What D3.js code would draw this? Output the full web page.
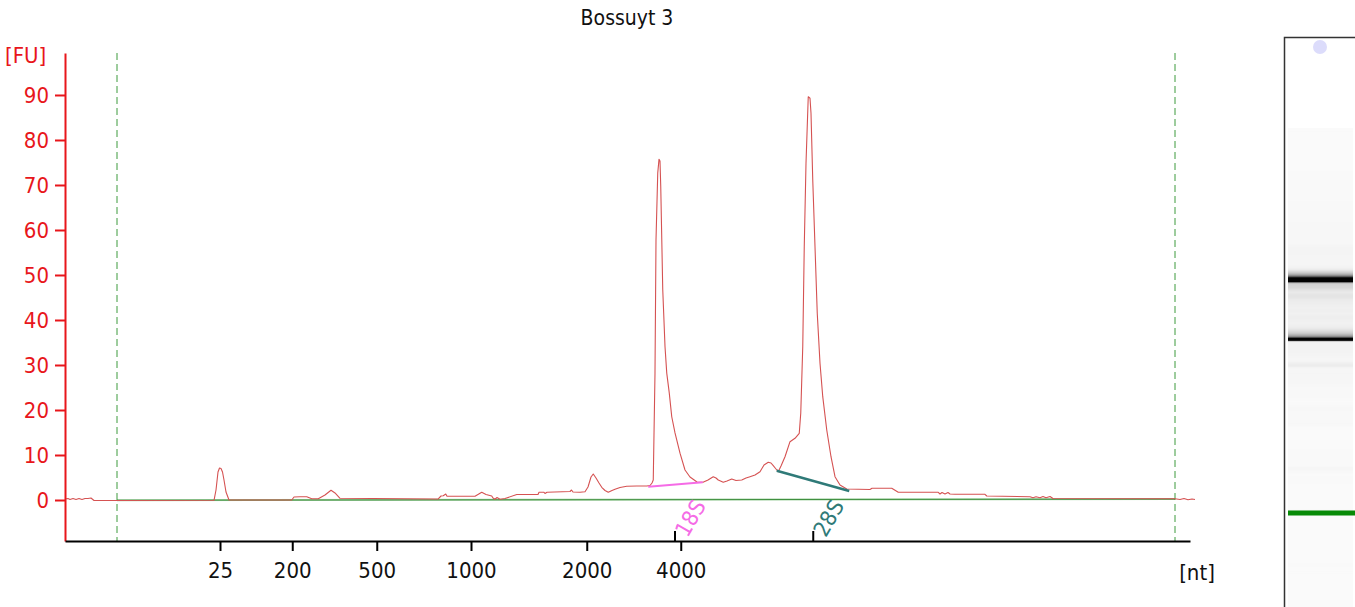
<!DOCTYPE html>
<html><head><meta charset="utf-8">
<script src="https://cdn.jsdelivr.net/npm/d3@7"></script>
<style>
html,body{margin:0;padding:0;background:#fff;}
svg{display:block;font-family:"DejaVu Sans Condensed","DejaVu Sans",sans-serif;}
</style></head>
<body><svg id="c" width="1355" height="607"></svg>
<script>
// ---- data (migration time in s, fluorescence in FU) ----
const traceTime = [19.00,19.12,19.20,19.32,19.44,19.56,19.68,19.80,19.92,20.04,20.16,21.08,24.96,25.04,25.12,25.18,25.24,25.30,25.36,25.44,25.56,28.07,28.16,28.40,28.67,28.87,29.13,29.40,29.64,29.80,30.00,33.92,34.04,34.13,34.23,34.28,35.40,35.67,35.84,36.07,36.12,36.20,36.28,36.40,36.60,37.07,37.92,37.96,38.16,38.20,38.28,39.20,39.26,39.32,39.60,39.80,39.92,40.04,40.13,40.24,40.36,40.47,40.60,40.73,40.88,41.00,41.20,41.47,41.87,42.27,42.40,42.48,42.53,42.60,42.64,42.71,42.76,42.80,42.83,42.91,43.00,43.07,43.17,43.27,43.40,43.60,43.80,44.00,44.28,44.52,44.72,44.93,45.04,45.13,45.33,45.48,45.67,45.84,46.07,46.24,46.40,46.60,46.80,46.96,47.13,47.24,47.33,47.44,47.53,47.64,47.80,48.00,48.20,48.37,48.43,48.51,48.57,48.64,48.73,48.80,48.84,48.91,49.00,49.09,49.20,49.31,49.47,49.64,49.80,50.00,50.27,51.20,51.28,52.07,52.33,53.93,54.00,54.08,54.20,54.32,54.40,54.60,55.80,55.87,57.60,57.72,57.84,58.00,58.12,58.24,58.40,58.52,63.40,63.60,63.76,63.92,64.08,64.20];
const traceFU = [0.22,0.33,0.11,0.33,0.11,0.33,0.11,0.33,0.33,0.44,-0.11,-0.11,-0.07,2.22,6.22,7.11,7.00,6.22,4.44,1.78,0.00,0.00,0.67,0.73,0.73,0.29,0.29,1.11,2.16,1.56,0.38,0.22,0.89,0.96,1.33,0.82,0.82,1.71,1.22,0.89,0.44,0.16,0.56,0.16,0.33,1.22,1.22,1.71,1.71,1.44,1.71,1.89,2.22,1.78,1.71,1.84,2.89,5.11,5.78,4.89,3.78,2.82,2.11,1.71,2.11,2.38,2.78,3.04,3.11,3.11,3.22,3.78,4.44,28.2,57.8,72.7,75.7,75.3,69.6,46.7,34.1,28.2,23.8,18.5,14.9,10.4,6.67,5.11,4.00,3.93,4.44,5.18,4.89,4.44,3.93,4.22,4.67,4.33,4.44,4.89,5.18,5.56,6.29,7.78,8.38,8.22,7.62,6.89,6.29,7.56,9.62,12.96,13.71,14.82,19.27,34.07,56.29,74.82,89.62,89.27,85.93,71.11,56.29,41.49,30.38,22.96,15.56,9.62,5.18,3.33,2.44,2.33,2.60,2.60,1.71,1.71,1.33,1.67,1.33,1.67,1.33,1.27,1.27,0.89,0.73,0.51,0.71,0.51,0.78,0.51,0.78,0.33,0.27,0.11,0.33,0.04,0.22,0.11];

const yTicks = [0,10,20,30,40,50,60,70,80,90];
const ladderTimes  = [25.20,28.09,31.47,35.24,39.87,43.63];
const ladderLabels = ["25","200","500","1000","2000","4000"];
const windowTimes  = [21.08,63.40];          // analysis window (dashed)
const baselineTime = [21.08,63.40];
const baselineFU   = [-0.05,0.2];
const peakNames    = ["18S","28S"];
const peakTimes    = [43.40,48.93];
const peakFromTime = [42.33,47.47];
const peakFromFU   = [2.96,6.51];
const peakToTime   = [44.51,50.37];
const peakToFU     = [3.93,2.00];
const markerTime   = 25.18;
const title = "Bossuyt 3";

// ---- scales ----
const FONT = "DejaVu Sans Condensed, DejaVu Sans, sans-serif";
const svg = d3.select("#c");
const x = d3.scaleLinear().domain([19,64]).range([65,1190]);
const y = d3.scaleLinear().domain([-9.11,99.33]).range([541,53]);
const RED = "#e8161b";

// title
svg.append("text").attr("x",627).attr("y",25).attr("text-anchor","middle")
  .attr("font-size",21).attr("font-family",FONT).attr("fill","#111").text(title);

// baseline
svg.append("line")
  .attr("x1",x(baselineTime[0])).attr("x2",x(baselineTime[1]))
  .attr("y1",y(baselineFU[0])).attr("y2",y(baselineFU[1]))
  .attr("stroke","#a6d3a6").attr("stroke-width",2);
svg.append("line")
  .attr("x1",x(baselineTime[0])).attr("x2",x(baselineTime[1]))
  .attr("y1",y(baselineFU[0])).attr("y2",y(baselineFU[1]))
  .attr("stroke","#3f8f3f").attr("stroke-width",1);

// analysis window dashed lines
svg.selectAll("line.win").data(windowTimes).join("line").attr("class","win")
  .attr("x1",d=>x(d)).attr("x2",d=>x(d)).attr("y1",53).attr("y2",541)
  .attr("stroke","#3d9a3d").attr("stroke-width",1).attr("stroke-dasharray","7,4");

// trace
const pts = traceTime.map((t,i)=>[t,traceFU[i]]);
svg.append("path").datum(pts)
  .attr("d",d3.line().x(d=>x(d[0])).y(d=>y(d[1])))
  .attr("fill","none").attr("stroke","#d55252").attr("stroke-width",1.1)
  .attr("stroke-linejoin","round");

// peak baselines
const peakColors = ["#f56be6","#2f7a78"];
const peakWidths = [2,2.5];
peakNames.forEach((n,i)=>{
  svg.append("line")
    .attr("x1",x(peakFromTime[i])).attr("y1",y(peakFromFU[i]))
    .attr("x2",x(peakToTime[i])).attr("y2",y(peakToFU[i]))
    .attr("stroke",peakColors[i]).attr("stroke-width",peakWidths[i]);
});

// axes
const yAxis = svg.append("g").attr("transform","translate(65,0)")
  .call(d3.axisLeft(y).tickValues(yTicks).tickSize(10).tickSizeOuter(0).tickPadding(6));
yAxis.select(".domain").attr("stroke",RED).attr("stroke-width",2);
yAxis.selectAll(".tick line").attr("stroke",RED).attr("stroke-width",2);
yAxis.selectAll(".tick text").attr("fill",RED).attr("font-size",22).attr("font-family",FONT);

const xAxis = svg.append("g").attr("transform","translate(0,541)")
  .call(d3.axisBottom(x).tickValues(ladderTimes).tickFormat((d,i)=>ladderLabels[i])
    .tickSize(10).tickSizeOuter(0).tickPadding(11));
xAxis.select(".domain").attr("stroke","#000").attr("stroke-width",2);
xAxis.selectAll(".tick line").attr("stroke","#000").attr("stroke-width",2);
xAxis.selectAll(".tick text").attr("fill","#111").attr("font-size",22).attr("font-family",FONT);

// peak ticks + labels
peakNames.forEach((n,i)=>{
  svg.append("line").attr("x1",x(peakTimes[i])).attr("x2",x(peakTimes[i]))
    .attr("y1",531).attr("y2",541).attr("stroke","#000").attr("stroke-width",2);
  svg.append("text")
    .attr("transform",`translate(${x(peakTimes[i])+22},522) rotate(-60)`)
    .attr("text-anchor","middle").attr("font-size",22).attr("font-family",FONT)
    .attr("fill",peakColors[i]).text(n);
});

// unit labels
svg.append("text").attr("x",5).attr("y",63).attr("font-size",22).attr("font-family",FONT)
  .attr("fill",RED).text("[FU]");
svg.append("text").attr("x",1197).attr("y",580).attr("text-anchor","middle")
  .attr("font-size",22).attr("font-family",FONT).attr("fill","#111").text("[nt]");

// ---- gel-like lane ----
const gelY = d3.scaleLinear().domain([markerTime,48.73]).range([513,280]);
const bis = d3.bisector(d=>d[0]).left;
function fuAt(t){
  if(t<traceTime[0]||t>traceTime[traceTime.length-1]) return 0;
  const i = Math.max(1,bis(pts,t));
  const a=pts[i-1], b=pts[Math.min(i,pts.length-1)];
  const f = b[0]===a[0]?0:(t-a[0])/(b[0]-a[0]);
  return a[1]+(b[1]-a[1])*f;
}
const gel = svg.append("g");
const rows = d3.range(128,607,1);
gel.selectAll("rect.row").data(rows).join("rect").attr("class","row")
  .attr("x",1288).attr("width",65).attr("y",d=>d).attr("height",1.02)
  .attr("fill",d=>{
    let v=0;
    for(let k=0;k<4;k++){ v=Math.max(v,fuAt(gelY.invert(d+k*0.25))); }
    const r = Math.min(1, Math.max(0,v)/70);
    const g = Math.round(250 - 250*Math.pow(r,1.15));
    return d3.rgb(g,g,g);
  });
gel.append("rect").attr("x",1288).attr("width",67).attr("y",gelY(markerTime)-2.5)
  .attr("height",5).attr("fill","#078a07");
gel.append("circle").attr("cx",1320).attr("cy",47).attr("r",7).attr("fill","#dcdcfb");
gel.append("path").attr("d","M1284.5,607 V37.5 H1355").attr("fill","none")
  .attr("stroke","#333").attr("stroke-width",1.5);
</script></body></html>
